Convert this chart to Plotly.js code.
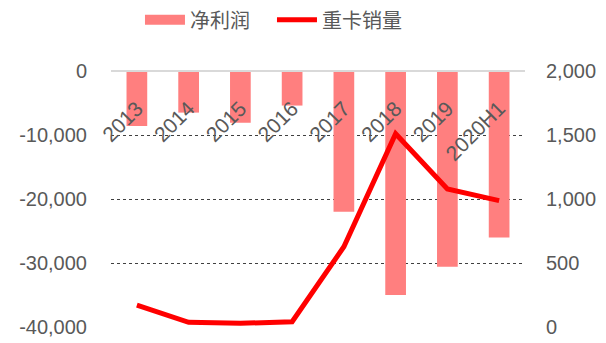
<!DOCTYPE html>
<html><head><meta charset="utf-8">
<script src="https://cdn.plot.ly/plotly-3.0.1.min.js"></script>
<style>html,body{margin:0;padding:0;background:#fff}#c{width:606px;height:343px}</style>
</head><body><div id="c"></div>
<script>
const categories = ['2013','2014','2015','2016','2017','2018','2019','2020H1'];
const netProfit = [-8600, -6500, -8100, -5400, -22000, -35000, -30600, -26000];
const truckSales = [170, 37, 29, 41, 627, 1510, 1078, 987];
const leftTickVals = [0, -10000, -20000, -30000, -40000];
const leftTickText = ['0', '-10,000', '-20,000', '-30,000', '-40,000'];
const rightTickVals = [0, 500, 1000, 1500, 2000];
const rightTickText = ['0', '500', '1,000', '1,500', '2,000'];
const FONT = 'Liberation Sans, Arial, Noto Sans CJK SC, sans-serif';
const data = [
  {type:'bar', name:'净利润', x:categories, y:netProfit, marker:{color:'#FF7F7F'}, yaxis:'y', showlegend:false},
  {type:'scatter', mode:'lines', name:'净利润', x:[null], y:[null], yaxis:'y', showlegend:true,
   line:{color:'#FF7F7F', width:10}},
  {type:'scatter', mode:'lines', name:'重卡销量', x:categories, y:truckSales, yaxis:'y2',
   line:{color:'#FF0000', width:5}}
];
const layout = {
  width:606, height:343,
  margin:{l:111, r:81, t:71, b:16, autoexpand:false},
  paper_bgcolor:'#fff', plot_bgcolor:'#fff',
  font:{family:FONT, size:20, color:'#595959'},
  bargap:0.6,
  showlegend:true,
  legend:{orientation:'h', x:0.07, xanchor:'left', y:1.2, yanchor:'middle', entrywidth:77,
          font:{size:20, color:'#595959'}, itemwidth:40, traceorder:'normal'},
  xaxis:{type:'category', anchor:'free', position:1, side:'bottom', showline:true, linecolor:'#D9D9D9', linewidth:2,
         automargin:false, tickmode:'array', tickvals:categories, ticktext:categories, ticklabelstandoff:16,
         showgrid:false, zeroline:false, ticks:'', tickangle:-45, tickfont:{size:21, color:'#595959'}},
  yaxis:{range:[-40000,0], tickvals:leftTickVals, ticktext:leftTickText, showgrid:true, automargin:false,
         gridcolor:'#404040', griddash:'dot', gridwidth:1, zeroline:false, ticks:'',
         ticklabelstandoff:23, tickfont:{size:20, color:'#595959'}},
  yaxis2:{range:[0,2000], overlaying:'y', side:'right', tickvals:rightTickVals, ticktext:rightTickText, automargin:false,
          showgrid:false, zeroline:false, ticks:'', ticklabelstandoff:20, tickfont:{size:20, color:'#595959'}}
};
Plotly.newPlot('c', data, layout, {displayModeBar:false, staticPlot:true});
</script></body></html>
